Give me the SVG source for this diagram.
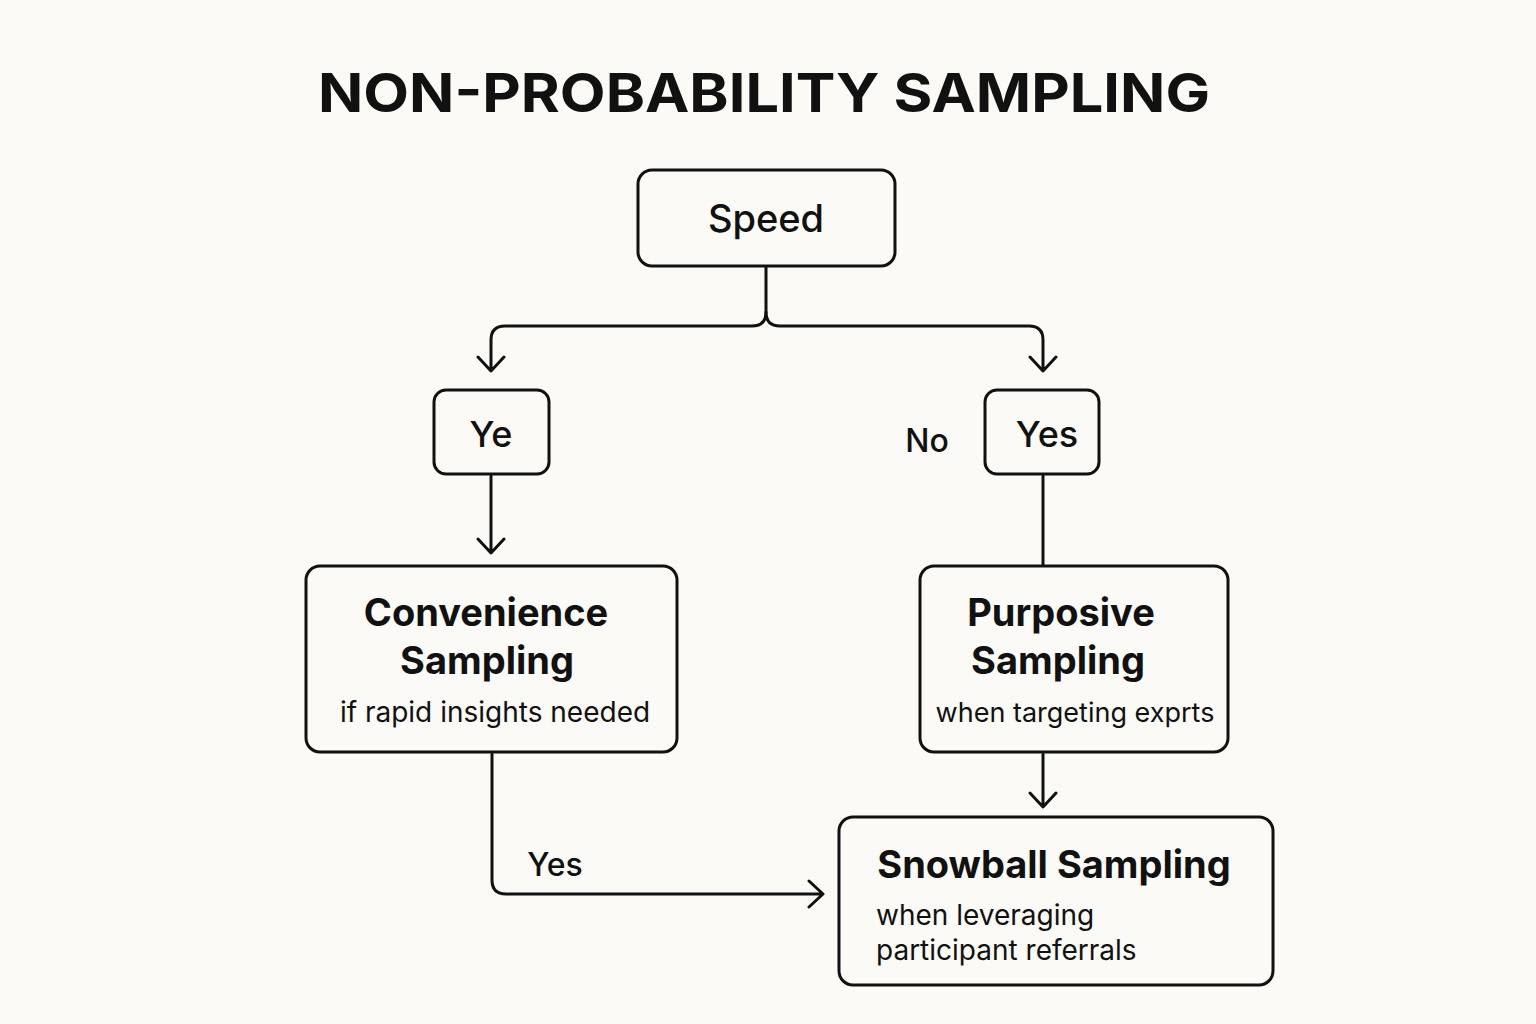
<svg xmlns="http://www.w3.org/2000/svg" width="1536" height="1024" viewBox="0 0 1536 1024">
<defs><style>
.box{fill:#FBFAF6;stroke:#111;stroke-width:3}
.ln{fill:none;stroke:#111;stroke-width:3;stroke-linecap:round;stroke-linejoin:round}
text{font-family:"Inter","Liberation Sans",sans-serif;fill:#111}
.b{font-weight:700}
.m{font-weight:500}
</style></defs>
<rect width="1536" height="1024" fill="#FBFAF6"/>
<text x="764" y="112" text-anchor="middle" class="b" font-size="54" textLength="892" lengthAdjust="spacingAndGlyphs">NON-PROBABILITY SAMPLING</text>
<g id="connectors">
<path class="ln" d="M766 266V312Q766 326 752 326H505Q491 326 491 340V370M478 357L491 371L504 357"/>
<path class="ln" d="M766 312Q766 326 780 326H1029Q1043 326 1043 340V370M1030 357L1043 371L1056 357"/>
<path class="ln" d="M491 476V552M478 539L491 553L504 539"/>
<path class="ln" d="M1043 476V566"/>
<path class="ln" d="M1043 754V806M1030 793L1043 807L1056 793"/>
<path class="ln" d="M492 754V880Q492 894 506 894H822M809 881L823 894L809 907"/>
<text x="555" y="876" text-anchor="middle" class="m" font-size="32">Yes</text>
<text x="927" y="452" text-anchor="middle" class="m" font-size="32">No</text>
</g>
<g id="speed"><rect class="box" x="638" y="170" width="257" height="96" rx="14"/><text x="766" y="232" text-anchor="middle" class="m" font-size="38">Speed</text></g>
<g id="ye"><rect class="box" x="434" y="390" width="115" height="84" rx="12"/><text x="491" y="447" text-anchor="middle" class="m" font-size="36">Ye</text></g>
<g id="yes"><rect class="box" x="985" y="390" width="114" height="84" rx="12"/><text x="1047" y="447" text-anchor="middle" class="m" font-size="36">Yes</text></g>
<g id="convenience"><rect class="box" x="306" y="566" width="371" height="186" rx="14"/>
<text x="486" y="626" text-anchor="middle" class="b" font-size="38">Convenience</text>
<text x="487" y="674" text-anchor="middle" class="b" font-size="38">Sampling</text>
<text x="495" y="722" text-anchor="middle" font-size="28">if rapid insights needed</text></g>
<g id="purposive"><rect class="box" x="920" y="566" width="308" height="186" rx="14"/>
<text x="1061" y="626" text-anchor="middle" class="b" font-size="38">Purposive</text>
<text x="1058" y="674" text-anchor="middle" class="b" font-size="38">Sampling</text>
<text x="1075" y="722" text-anchor="middle" font-size="27">when targeting exprts</text></g>
<g id="snowball"><rect class="box" x="839" y="817" width="434" height="168" rx="14"/>
<text x="1054" y="878" text-anchor="middle" class="b" font-size="38">Snowball Sampling</text>
<text x="876" y="925" font-size="28">when leveraging</text>
<text x="876" y="960" font-size="28">participant referrals</text></g>
</svg>
